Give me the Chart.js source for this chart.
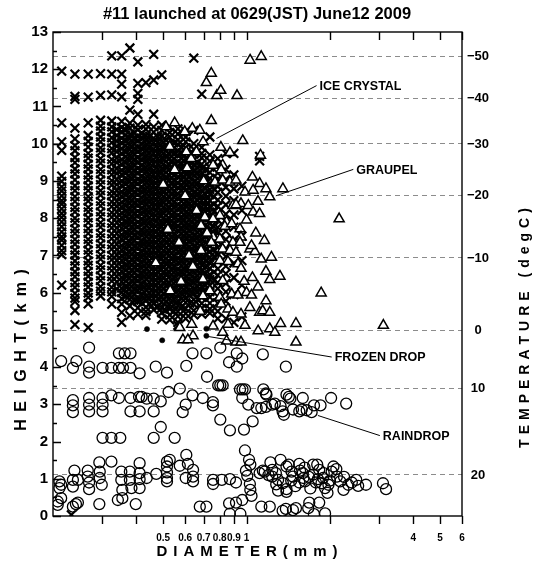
<!DOCTYPE html>
<html><head><meta charset="utf-8">
<script src="https://cdn.jsdelivr.net/npm/chart.js@4/dist/chart.umd.min.js"></script>
<style>html,body{margin:0;padding:0;background:#fff}</style>
</head><body>
<canvas id="c" width="540" height="563"></canvas>
<script>
const titleText = '#11 launched at 0629(JST) June12 2009';
const xTitle = 'DIAMETER(mm)';
const yTitle = 'HEIGHT(km)';
const y2Title = 'TEMPERATURE (degC)';
const xTickValues = [0.3,0.4,0.5,0.6,0.7,0.8,0.9,1,2,3,4,5,6];
const xTickLabels = ['','','0.5','0.6','0.7','0.8','0.9','1','','','4','5','6'];
const tempLabels = ['\u221250','\u221240','\u221230','\u221220','\u221210','0','10','20'];
const tempHeights = [12.36,11.24,10.02,8.63,6.95,5.0,3.45,1.13];

// ICE CRYSTAL: heights (km) per diameter bin (mm)
const iceDiameters = [0.215,0.240,0.268,0.297,0.326,0.354,0.379,0.405,0.433,0.462,0.494,0.528,0.565,0.603,0.645,0.689,0.737,0.787,0.842,0.900,0.962,1.115,0.233,
  0.340,0.366,0.392,0.419,0.447,0.478,0.511,0.546,0.584,0.624,0.667,0.712,0.762];
const iceHeights = [
 [11.95,10.56,10.05,9.82,9.13,8.99,8.84,8.73,8.6,8.47,8.38,8.25,8.13,8.02,7.9,7.77,7.63,7.5,7.41,7.27,7.13,7.02,6.2],
 [11.87,11.27,11.19,10.42,10.13,9.95,9.81,9.63,9.49,9.32,9.19,9.03,8.87,8.74,8.58,8.45,8.29,8.17,8.0,7.88,7.71,7.59,7.43,7.3,7.14,7.01,6.85,6.72,6.56,6.43,6.27,6.14,5.98,5.85,5.76,5.52,5.14],
 [11.87,11.25,10.56,10.22,10.06,9.91,9.74,9.61,9.45,9.32,9.16,9.03,8.87,8.74,8.58,8.46,8.29,8.17,8.01,7.88,7.72,7.59,7.43,7.31,7.14,7.02,6.85,6.73,6.57,6.44,6.28,6.15,5.99,5.87,5.7,5.06],
 [11.88,11.3,10.63,10.47,10.34,10.18,10.05,9.89,9.77,9.6,9.48,9.31,9.19,9.03,8.9,8.74,8.62,8.45,8.33,8.17,8.04,7.88,7.76,7.59,7.47,7.31,7.18,7.02,6.9,6.73,6.61,6.45,6.32,6.16,6.04,5.91],
 [12.36,11.87,11.31,10.61,10.45,10.32,10.16,10.03,9.87,9.75,9.58,9.46,9.3,9.17,9.01,8.89,8.72,8.6,8.44,8.31,8.15,8.03,7.86,7.74,7.58,7.45,7.29,7.17,7.0,6.88,6.72,6.59,6.43,6.31,6.14,6.02,5.9,5.69],
 [12.36,11.87,11.6,11.26,10.6,10.44,10.32,10.15,10.03,9.87,9.74,9.58,9.45,9.29,9.17,9.0,8.88,8.71,8.59,8.43,8.3,8.14,8.01,7.85,7.73,7.56,7.44,7.27,7.15,6.99,6.86,6.7,6.57,6.41,6.29,6.12,6.0,5.84,5.69,5.47,5.2],
 [12.57,10.9,10.55,10.42,10.25,10.13,9.97,9.84,9.68,9.55,9.39,9.27,9.1,8.98,8.81,8.69,8.53,8.4,8.24,8.11,7.95,7.83,7.66,7.54,7.37,7.25,7.09,6.96,6.8,6.67,6.51,6.39,6.22,6.1,5.93,5.81,5.64,5.38],
 [12.2,11.62,11.35,11.19,10.79,10.5,10.37,10.2,10.08,9.91,9.79,9.63,9.5,9.34,9.21,9.05,8.93,8.76,8.64,8.47,8.35,8.19,8.06,7.9,7.77,7.61,7.49,7.32,7.2,7.03,6.91,6.75,6.62,6.46,6.33,6.17,6.05,5.88,5.76,5.59,5.42],
 [11.64,10.52,10.39,10.22,10.1,9.94,9.81,9.65,9.52,9.36,9.24,9.07,8.95,8.78,8.66,8.5,8.37,8.21,8.08,7.92,7.8,7.63,7.51,7.34,7.22,7.06,6.93,6.77,6.64,6.48,6.36,6.19,6.07,5.9,5.78,5.61,5.49,5.39],
 [12.4,11.71,10.79,10.45,10.31,10.15,10.02,9.86,9.74,9.57,9.45,9.28,9.16,9.0,8.87,8.71,8.58,8.42,8.3,8.13,8.01,7.84,7.72,7.56,7.43,7.27,7.14,6.98,6.86,6.69,6.57,6.4,6.28,6.12,5.99,5.83,5.7,5.54],
 [11.85,10.5,10.36,10.2,10.07,9.91,9.79,9.62,9.5,9.33,9.21,9.05,8.92,8.76,8.63,8.47,8.35,8.18,8.06,7.89,7.77,7.61,7.48,7.32,7.19,7.03,6.91,6.74,6.62,6.45,6.33,6.17,6.04,5.88,5.75,5.59,5.46,5.29],
 [10.45,10.3,10.17,10.01,9.88,9.72,9.6,9.43,9.31,9.14,9.02,8.86,8.73,8.57,8.44,8.28,8.16,7.99,7.87,7.7,7.58,7.42,7.29,7.13,7.0,6.84,6.72,6.55,6.43,6.26,6.14,5.98,5.85,5.69,5.56,5.4,5.27],
 [10.4,10.26,10.1,9.98,9.81,9.69,9.52,9.4,9.24,9.11,8.95,8.82,8.66,8.54,8.37,8.25,8.08,7.96,7.8,7.67,7.51,7.38,7.22,7.1,6.93,6.81,6.64,6.52,6.36,6.23,6.07,5.94,5.78,5.65,5.49,5.36,5.2,5.12],
 [10.33,10.18,10.05,9.89,9.77,9.6,9.48,9.31,9.19,9.03,8.9,8.74,8.61,8.45,8.33,8.16,8.04,7.87,7.75,7.59,7.46,7.3,7.17,7.01,6.89,6.72,6.6,6.43,6.31,6.15,6.02,5.86,5.73,5.57,5.44,5.3],
 [12.3,10.36,10.0,9.85,9.72,9.56,9.43,9.27,9.15,8.98,8.86,8.69,8.57,8.41,8.28,8.12,7.99,7.83,7.71,7.54,7.42,7.25,7.13,6.97,6.84,6.68,6.55,6.39,6.27,6.1,5.98,5.81,5.69,5.52,5.4],
 [11.33,9.9,9.74,9.62,9.45,9.33,9.17,9.04,8.88,8.75,8.59,8.47,8.3,8.18,8.01,7.89,7.73,7.6,7.44,7.31,7.15,7.03,6.86,6.74,6.57,6.45,6.29,6.16,6.0,5.87,5.71,5.58,5.42],
 [10.18,9.7,9.53,9.37,9.23,9.07,8.94,8.77,8.63,8.47,8.32,8.16,8.02,7.85,7.71,7.56,7.41,7.24,7.11,6.95,6.79,6.65,6.49,6.35,6.19,6.03,5.88,5.72,5.56,5.45],
 [9.6,9.42,9.21,9.05,8.85,8.69,8.49,8.32,8.11,7.95,7.75,7.59,7.38,7.21,7.01,6.85,6.64,6.47,6.27,6.11,5.9,5.72,5.5,5.3],
 [9.74,9.31,9.04,8.83,8.59,8.36,8.11,7.91,7.65,7.43,7.19,6.97,6.71,6.51,6.25,6.02,5.77,5.3],
 [9.74,9.16,8.79,8.47,8.09,7.76,7.41,7.11,6.79,6.4,5.95,5.2],
 [8.86,8.21,7.52,6.86,6.2,5.35],
 [9.66,9.54],
 [0.03],
 [10.38,10.22,10.07,9.93,9.78,9.62,9.49,9.33,9.2,9.04,8.9,8.75,8.61,8.46,8.32,8.17,8.03,7.88,7.74,7.59,7.45,7.3,7.16,7.01,6.87,6.72,6.58,6.43,6.29,6.1],
 [10.37,10.23,10.08,9.94,9.79,9.65,9.5,9.36,9.21,9.07,8.92,8.78,8.63,8.49,8.34,8.2,8.05,7.91,7.76,7.62,7.47,7.33,7.18,7.04,6.89,6.75,6.6,6.46,6.31,6.17,6.02,5.9],
 [10.3,10.15,10.01,9.86,9.72,9.57,9.43,9.28,9.14,8.99,8.85,8.7,8.56,8.41,8.27,8.12,7.98,7.83,7.69,7.54,7.4,7.25,7.11,6.96,6.82,6.67,6.53,6.38,6.24,6.09,5.95,5.8],
 [10.28,10.14,9.99,9.85,9.7,9.56,9.41,9.27,9.12,8.98,8.83,8.69,8.54,8.4,8.25,8.11,7.96,7.82,7.67,7.53,7.38,7.24,7.09,6.95,6.8,6.66,6.51,6.37,6.22,6.08,5.93,5.72],
 [10.2,10.05,9.91,9.76,9.62,9.47,9.33,9.18,9.04,8.89,8.75,8.6,8.46,8.31,8.17,8.02,7.88,7.73,7.59,7.44,7.3,7.15,7.01,6.86,6.72,6.57,6.43,6.28,6.14,5.99,5.85,5.7],
 [10.18,10.04,9.89,9.75,9.6,9.46,9.31,9.17,9.02,8.88,8.73,8.59,8.44,8.3,8.15,8.01,7.86,7.72,7.57,7.43,7.28,7.14,6.99,6.85,6.7,6.56,6.41,6.27,6.12,5.98,5.83,5.62],
 [10.1,9.96,9.81,9.67,9.52,9.38,9.23,9.09,8.94,8.8,8.65,8.51,8.36,8.22,8.07,7.93,7.78,7.64,7.49,7.35,7.2,7.06,6.91,6.77,6.62,6.48,6.33,6.19,6.04,5.9,5.75,5.52],
 [10.02,9.88,9.73,9.59,9.44,9.3,9.15,9.01,8.86,8.72,8.57,8.43,8.28,8.14,7.99,7.85,7.7,7.56,7.41,7.27,7.12,6.98,6.83,6.69,6.54,6.4,6.25,6.11,5.96,5.82,5.67,5.5],
 [9.9,9.75,9.61,9.46,9.32,9.17,9.03,8.88,8.74,8.59,8.45,8.3,8.16,8.01,7.87,7.72,7.58,7.43,7.29,7.14,7.0,6.85,6.71,6.56,6.42,6.27,6.13,5.98,5.84,5.62],
 [9.7,9.55,9.41,9.26,9.12,8.97,8.83,8.68,8.54,8.39,8.25,8.1,7.96,7.81,7.67,7.52,7.38,7.23,7.09,6.94,6.8,6.65,6.51,6.36,6.22,6.07,5.93,5.72],
 [9.5,9.35,9.21,9.06,8.92,8.77,8.63,8.48,8.34,8.19,8.05,7.9,7.76,7.61,7.47,7.32,7.18,7.03,6.89,6.74,6.6,6.45,6.31,6.16,6.02,5.82],
 [9.3,9.12,8.96,8.8,8.64,8.47,8.31,8.15,7.99,7.82,7.66,7.5,7.34,7.17,7.01,6.85,6.69,6.52,6.36,6.2,6.02],
 [8.98,8.78,8.58,8.37,8.17,7.97,7.77,7.56,7.36,7.16,6.96,6.75,6.55,6.32]
];

// GRAUPEL: [diameter mm, height km]
const graupelPoints = [
 [1.03,12.24],[1.13,12.34],[0.746,11.89],[0.716,11.64],[0.781,11.29],[0.807,11.43],[0.924,11.29],[0.746,10.62],
 [0.55,10.56],[0.512,10.45],[0.637,10.41],[0.598,10.32],[0.678,10.36],[0.697,10.05],[0.969,10.08],[0.808,9.9],
 [0.528,9.92],[0.606,9.78],[0.631,9.6],[0.659,9.78],[0.871,9.76],[1.123,9.69],[0.757,9.42],[0.82,9.42],[0.81,9.3],
 [0.769,8.97],[0.82,9.02],[0.871,8.97],[0.916,9.02],[0.987,8.7],[1.056,8.75],[1.115,8.93],[1.175,8.79],[1.213,8.57],
 [1.353,8.79],[0.893,8.34],[0.955,8.39],[1.015,8.34],[1.056,8.16],[1.115,8.12],[0.916,8.36],[0.801,8.07],[0.847,7.9],
 [0.835,7.78],[0.884,7.85],[0.947,7.71],[0.955,7.49],[0.707,8.03],[0.757,7.98],[0.685,7.8],[0.757,7.49],[0.801,7.44],
 [0.746,7.35],[0.893,7.35],[0.947,7.35],[0.82,7.17],[0.871,7.13],[0.916,7.08],[1.028,7.17],[1.072,7.1],[0.685,7.13],
 [1.042,7.26],[1.23,6.95],[0.801,6.86],[0.857,6.83],[0.931,6.77],[0.955,6.65],[1.175,6.57],[1.213,6.35],[1.32,6.44],
 [0.696,6.36],[0.82,6.32],[0.737,6.05],[0.696,5.91],[0.801,5.87],[0.884,5.96],[0.931,5.93],[1.0,6.0],[1.042,5.93],
 [1.175,5.78],[1.86,5.99],[2.16,7.98],[0.81,5.69],[0.857,5.56],[0.893,5.47],[0.955,5.42],[1.028,5.6],[1.115,5.47],
 [1.144,5.51],[1.213,5.47],[0.634,5.15],[0.757,5.1],[0.857,5.15],[0.987,5.12],[1.101,4.97],[0.574,5.06],[0.641,4.84],
 [0.82,4.93],[0.589,4.73],[0.614,4.73],[0.847,4.7],[0.916,4.67],[0.955,4.67],[1.213,5.03],[1.327,5.17],[1.508,5.17],
 [3.12,5.12],[1.265,4.93],[1.508,4.67],
 [0.55,9.3],[0.6,8.6],[0.52,7.7],[0.62,7.0],[0.58,6.3],[0.66,8.2],[0.7,9.0],[0.64,6.7],[0.72,7.6],[0.68,5.5],
 [0.5,8.9],[0.57,7.35],[0.47,6.8],[0.53,6.05],[0.61,9.35],[1.05,9.1],[1.1,8.45],[1.0,7.95],[1.08,7.6],[1.13,6.9],
 [1.05,6.4],[1.1,6.15],[0.98,6.3],[1.16,7.4]
];

// FROZEN DROP
const frozenPoints = [[0.437,5.02],[0.496,4.72],[0.716,5.03],[0.716,4.84]];

// RAINDROP
const rainPoints = [
 [0.270,4.52],[0.214,4.16],[0.243,4.16],[0.236,3.98],[0.270,4.01],[0.270,3.85],[0.302,3.98],[0.325,3.98],[0.346,4.37],
 [0.363,4.37],[0.381,4.37],[0.346,3.98],[0.358,3.98],[0.381,3.98],[0.411,3.83],[0.470,4.01],[0.516,3.85],[0.606,4.03],
 [0.638,4.37],[0.716,4.37],[0.72,3.74],[0.804,4.52],[0.865,4.13],[0.922,4.01],[0.922,4.37],[0.965,4.23],[1.145,4.34],[1.387,4.01],
 [0.79,3.51],[0.804,3.51],[0.82,3.51],[0.574,3.42],[0.523,3.33],[0.325,3.24],[0.346,3.17],[0.381,3.17],[0.409,3.2],[0.418,3.2],
 [0.436,3.15],[0.462,3.15],[0.49,3.08],[0.603,2.99],[0.638,3.24],[0.695,3.17],[0.756,3.06],[0.756,2.97],[0.947,3.4],[0.967,3.4],
 [0.987,3.4],[0.965,3.17],[1.015,2.99],[1.088,2.9],[1.131,2.9],[1.15,3.4],[1.18,3.26],[1.238,2.99],[0.236,3.11],[0.236,2.97],
 [0.236,2.79],[0.27,3.17],[0.27,2.99],[0.27,2.81],[0.302,3.17],[0.302,2.99],[0.302,2.81],[0.381,2.81],[0.411,2.81],[0.462,2.81],
 [0.588,2.79],[0.804,2.59],[0.871,2.3],[0.979,2.32],[1.052,2.54],[0.49,2.39],[0.462,2.1],[0.55,2.1],[0.302,2.1],[0.325,2.1],
 [0.35,2.1],[1.175,3.29],[1.175,2.93],[1.265,3.02],[1.327,2.95],[1.35,2.81],[1.364,2.72],[1.394,3.26],[1.422,3.2],[1.44,3.15],
 [1.471,2.86],[1.551,2.81],[1.583,2.86],[1.596,3.17],[1.649,2.84],[1.718,2.79],[1.752,2.97],[1.85,2.97],[2.02,3.17],[2.29,3.02],
 [0.211,0.93],[0.211,0.75],[0.214,0.84],[0.214,0.48],[0.208,0.3],[0.208,0.39],[0.236,0.25],[0.246,0.36],[0.236,0.97],[0.246,0.97],
 [0.239,1.22],[0.236,0.79],[0.242,0.32],[0.267,1.22],[0.267,1.06],[0.27,0.9],[0.27,0.72],[0.294,1.44],[0.295,1.19],[0.295,1.02],
 [0.3,0.84],[0.294,0.32],[0.325,1.46],[0.353,1.19],[0.379,1.19],[0.353,0.97],[0.379,0.97],[0.384,0.75],[0.356,0.7],[0.356,0.48],
 [0.343,0.43],[0.398,0.32],[0.411,1.42],[0.411,0.99],[0.411,0.75],[0.411,1.15],[0.436,1.02],[0.472,1.13],[0.516,1.46],[0.516,1.33],
 [0.516,1.17],[0.516,1.02],[0.516,0.93],[0.528,1.51],[0.606,1.64],[0.614,1.4],[0.574,1.35],[0.603,1.02],[0.641,1.06],[0.641,0.93],
 [0.641,1.24],[0.678,0.25],[0.757,0.97],[0.757,0.86],[0.716,0.25],[0.814,0.97],[0.871,0.99],[0.916,0.9],[0.87,0.06],[0.95,0.06],
 [0.916,0.36],[0.865,0.34],[0.965,0.43],[0.987,1.76],[1.021,1.51],[1.032,1.38],[0.995,1.22],[1.006,1.08],[1.028,0.86],[1.032,0.7],
 [1.042,0.54],[1.115,1.15],[1.163,1.19],[1.22,1.44],[1.213,0.25],[1.238,1.24],[1.276,1.15],[1.131,0.25],[1.145,1.22],[1.238,1.06],
 [1.327,1.51],[1.3,0.97],[1.353,0.88],[1.394,0.72],[1.3,0.68],[1.394,0.65],[1.394,1.33],[1.454,1.19],[1.471,1.06],[1.56,1.22],
 [1.596,1.15],[1.605,1.02],[1.551,0.9],[1.625,0.93],[1.74,1.38],[1.80,1.38],[1.83,1.24],[1.74,1.11],[1.81,0.99],[1.89,1.02],
 [1.865,0.88],[1.921,0.75],[1.976,0.84],[2.03,1.19],[2.11,1.26],[2.12,1.06],[2.18,0.93],[2.24,0.7],[2.33,0.84],[2.49,0.97],
 [2.53,0.81],[2.70,0.84],[3.11,0.88],[3.19,0.72],[1.471,0.16],[1.508,0.21],[1.67,0.21],[1.83,0.36],[1.921,0.07],[1.35,0.14],
 [1.387,0.19],[1.685,0.36],[1.752,0.05],
 [1.2,1.1],[1.28,0.85],[1.45,0.95],[1.5,0.8],[1.62,1.3],[1.68,1.05],[1.9,1.15],[2.0,0.95],[2.06,1.33],[1.78,0.9],
 [1.55,1.4],[1.42,1.38],[2.25,1.05],[2.4,0.9],[1.96,0.62],[1.7,0.74]
];

// annotations (data units)
const annotLabels = ['ICE CRYSTAL','GRAUPEL','FROZEN DROP','RAINDROP'];
const annotFrom = [[0.779,10.14],[1.276,8.6],[0.716,4.83],[1.81,2.70]];
const annotTo = [[1.79,11.56],[2.43,9.31],[2.03,4.27],[3.03,2.16]];

const FONT = '"Liberation Sans", Arial, Helvetica, sans-serif';
const icePts = [];
iceDiameters.forEach((d,i)=>iceHeights[i].forEach(h=>icePts.push({x:d,y:h})));
const toXY = a => a.map(p=>({x:p[0],y:p[1]}));

function spaced(ctx, text, cx, cy, sp, rot){
  const ws = [...text].map(c=>ctx.measureText(c).width);
  const total = ws.reduce((a,b)=>a+b,0) + sp*(ws.length-1);
  ctx.save(); ctx.translate(cx,cy); ctx.rotate(rot);
  ctx.textAlign='left'; ctx.textBaseline='middle';
  let x=-total/2;
  [...text].forEach((c,i)=>{ctx.fillText(c,x,0); x+=ws[i]+sp;});
  ctx.restore();
}

const deco = {
  id:'deco',
  beforeDatasetsDraw(chart){
    const {ctx, chartArea:a, scales:{y}} = chart;
    ctx.save();
    ctx.strokeStyle='#8c8c8c'; ctx.lineWidth=1; ctx.setLineDash([5,4]);
    tempHeights.forEach(h=>{const py=Math.round(y.getPixelForValue(h))+0.5;
      ctx.beginPath(); ctx.moveTo(a.left,py); ctx.lineTo(a.right,py); ctx.stroke();});
    ctx.restore();
  },
  afterDraw(chart){
    const {ctx, chartArea:a, scales:{x,y}} = chart;
    ctx.save();
    ctx.strokeStyle='#000'; ctx.lineWidth=1.4; ctx.setLineDash([]);
    ctx.strokeRect(a.left, a.top, a.right-a.left, a.bottom-a.top);
    ctx.beginPath();
    xTickValues.forEach(v=>{const px=Math.round(x.getPixelForValue(v))+0.5;
      ctx.moveTo(px,a.bottom); ctx.lineTo(px,a.bottom+8);
      ctx.moveTo(px,a.top); ctx.lineTo(px,a.top+8);});
    for(let v=0; v<=13; v+=0.5){const py=Math.round(y.getPixelForValue(v))+0.5;
      const len = (v%1===0)?8:4; ctx.moveTo(a.left,py); ctx.lineTo(a.left+len,py);}
    ctx.stroke();
    ctx.fillStyle='#000';
    // right temperature labels
    ctx.font='bold 13px '+FONT; ctx.textAlign='center'; ctx.textBaseline='middle';
    tempLabels.forEach((t,i)=>ctx.fillText(t, a.right+16, y.getPixelForValue(tempHeights[i])+1));
    // annotations
    ctx.lineWidth=1;
    ctx.font='bold 12.5px '+FONT; ctx.textAlign='left';
    annotLabels.forEach((t,i)=>{
      const x0=x.getPixelForValue(annotFrom[i][0]), y0=y.getPixelForValue(annotFrom[i][1]);
      const x1=x.getPixelForValue(annotTo[i][0]), y1=y.getPixelForValue(annotTo[i][1]);
      ctx.beginPath(); ctx.moveTo(x0,y0); ctx.lineTo(x1,y1); ctx.stroke();
      ctx.fillText(t, x1+3, y1+1);
    });
    // title
    ctx.font='bold 16.5px '+FONT; ctx.textAlign='center'; ctx.textBaseline='middle';
    ctx.fillText(titleText, 257, 14);
    // axis titles
    ctx.font='bold 15px '+FONT;
    spaced(ctx, xTitle, 247, 552, 6, 0);
    ctx.font='bold 16px '+FONT;
    spaced(ctx, yTitle, 22, 350, 7.5, -Math.PI/2);
    ctx.font='bold 14px '+FONT;
    spaced(ctx, y2Title, 525, 328, 5, -Math.PI/2);
    ctx.restore();
  }
};

new Chart(document.getElementById('c'), {
  type:'scatter',
  data:{datasets:[
    {label:'RAINDROP', data:toXY(rainPoints), pointStyle:'circle', pointRadius:5.5, borderColor:'#000', backgroundColor:'rgba(0,0,0,0)', borderWidth:1.3, order:0},
    {label:'FROZEN DROP', data:toXY(frozenPoints), pointStyle:'circle', pointRadius:2.6, borderColor:'#000', backgroundColor:'#000', borderWidth:0.5, order:1},
    {label:'GRAUPEL', data:toXY(graupelPoints), pointStyle:'triangle', pointRadius:5.8, borderColor:'#000', backgroundColor:'#fff', borderWidth:1.5, order:2},
    {label:'ICE CRYSTAL', data:icePts, pointStyle:'crossRot', pointRadius:6.2, borderColor:'#000', backgroundColor:'#000', borderWidth:2.2, order:3}
  ]},
  options:{
    responsive:false, animation:false, events:[],
    layout:{padding:{top:32,right:78,left:0,bottom:0}},
    plugins:{legend:{display:false}, tooltip:{enabled:false}, title:{display:false}},
    scales:{
      x:{type:'logarithmic', min:0.2, max:6, position:'bottom',
        afterBuildTicks:s=>{s.ticks = xTickValues.map(v=>({value:v}));},
        afterFit:s=>{s.height=47;},
        grid:{display:false, drawTicks:false}, border:{display:false},
        ticks:{autoSkip:false, maxRotation:0, minRotation:0, padding:16, color:'#000',
          font:{family:FONT, weight:'bold', size:10},
          callback:(v)=>{const k=xTickValues.findIndex(t=>Math.abs(t-v)<1e-9); return k>=0?xTickLabels[k]:'';}}},
      y:{type:'linear', min:0, max:13, position:'left',
        afterFit:s=>{s.width=53;},
        grid:{display:false, drawTicks:false}, border:{display:false},
        ticks:{stepSize:1, padding:5, color:'#000', font:{family:FONT, weight:'bold', size:15}}}
    }
  },
  plugins:[deco]
});
</script>
</body></html>
